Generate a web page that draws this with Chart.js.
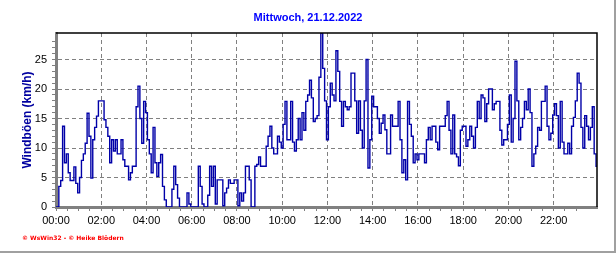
<!DOCTYPE html>
<html>
<head>
<meta charset="utf-8">
<script src="https://cdn.jsdelivr.net/npm/chart.js@4/dist/chart.umd.min.js"></script>
<style>
  html, body { margin: 0; padding: 0; background: #fff; }
  #wrap { width: 616px; height: 253px; }
</style>
</head>
<body>
<div id="wrap"><canvas id="gustChart" width="616" height="253"></canvas></div>
<script>
// texts
const chartTitle = "Mittwoch, 21.12.2022";
const yAxisTitle = "Windböen (km/h)";
const creditText = "© WsWin32 - © Heike Blödern";

// x axis tick labels, one every 2 hours
const hourLabels = ["00:00", "02:00", "04:00", "06:00", "08:00", "10:00",
  "12:00", "14:00", "16:00", "18:00", "20:00", "22:00"];

// one reading every 5 minutes, one row per hour
const sampleMinutes = 5;
const gusts = [
  0, 0, 3.5, 4.5, 13.7, 7.5, 9, 5.8, 4.5, 4.5, 6.8, 4,            // 00
  2.4, 5, 7.9, 9, 10.8, 15.9, 12, 4.9, 11.4, 13.5, 15.4, 18,       // 01
  18, 18, 14.8, 13.5, 12, 7.5, 11.4, 9.5, 11.4, 9, 9, 11.4,        // 02
  8, 6.9, 6.9, 4.6, 5.8, 6.9, 6.9, 17, 20.5, 15, 10.8, 17.9,       // 03
  16, 11.4, 9, 5.8, 13.5, 7.5, 5.2, 7.5, 8.9, 3.5, 1.2, 0,         // 04
  0, 0, 3, 6.9, 3.8, 1.5, 0, 0, 0, 0, 2.4, 0.5,                    // 05
  0, 0, 0, 0, 6.9, 3.5, 0.5, 0, 0, 2, 6.9, 3.5,                    // 06
  6.9, 0.5, 4.6, 4.6, 4.6, 0.2, 2.4, 3.2, 4.6, 4, 4, 4.6,          // 07
  4.6, 0.2, 2.4, 1, 2.4, 6.9, 6.9, 4.6, 0, 0, 6.9, 7.2,            // 08
  8.5, 6.9, 6.9, 6.9, 10.3, 12, 13.7, 10, 9, 9, 12, 11,            // 09
  10, 14, 17.9, 11.4, 11.4, 17.9, 11, 9.5, 11.4, 15, 11.4, 16,     // 10
  13, 17.9, 19, 21.5, 18.5, 14.5, 15, 15.5, 22, 29.5, 23.5, 18,    // 11
  11.4, 17, 21, 19, 18, 26.5, 23, 17.9, 13.7, 17.9, 17, 16.5,      // 12
  17, 22.7, 22.7, 18, 12.5, 18, 13, 10, 18, 25, 6.6, 11.4,         // 13
  18.8, 17, 17, 15, 12.5, 14.2, 15.6, 13.1, 9, 9, 15.6, 13.7,      // 14
  13.7, 13.7, 17.9, 11.4, 5.8, 8, 4.6, 17.9, 14, 12, 7.5, 9,       // 15
  8, 9, 9, 9, 7.5, 11.4, 13.5, 11.4, 13.7, 13.7, 11, 9.7,          // 16
  13.7, 13.7, 13.7, 15.5, 17.9, 13, 9, 15.6, 9, 8.5, 7, 13,        // 17
  13.7, 13.7, 10.3, 11.4, 13.7, 12, 10, 13.5, 17.9, 15, 19, 18.5,  // 18
  14.5, 17.5, 20, 20, 16.5, 17.5, 17.9, 17.9, 13, 10.5, 11.4, 11.4,// 19
  14, 19, 11, 15, 24.7, 18, 11.4, 13.5, 15, 17.9, 16.5, 20,        // 20
  16, 6.9, 9, 10.3, 13.5, 13, 17.9, 17.9, 20.5, 13.7, 11.4, 12.5,  // 21
  15.6, 17.5, 15.5, 10, 17.9, 11, 9, 9, 10.8, 9, 13.7, 15.2,       // 22
  18, 22.7, 21, 13.5, 10, 15.5, 13.7, 11.4, 13.5, 17, 9, 6.9       // 23
];

const yMax = 29.5;
const lastMinute = (gusts.length - 1) * sampleMinutes;

const points = gusts.map((v, i) => ({ x: i * sampleMinutes, y: v }));

const gridGrey = "#808080";
const none = "rgba(0,0,0,0)";
const fontFamily = "'Liberation Sans', Arial, sans-serif";

// frame lines, plot border and the small credit line
const frameDeco = {
  id: "frameDeco",
  afterDraw(chart) {
    const { ctx, chartArea: a } = chart;
    ctx.save();
    ctx.strokeStyle = "#000";
    ctx.lineWidth = 1.5;
    ctx.beginPath();
    ctx.moveTo(a.left, a.top);
    ctx.lineTo(a.right, a.top);
    ctx.lineTo(a.right, a.bottom);
    ctx.stroke();

    ctx.fillStyle = "#a0a0a0";
    ctx.fillRect(614, 0, 2, 253);
    ctx.fillRect(0, 251, 616, 2);

    ctx.fillStyle = "#ff0000";
    ctx.font = "bold 6px 'DejaVu Sans', sans-serif";
    ctx.textBaseline = "alphabetic";
    ctx.fillText(creditText, 22, 240);
    ctx.restore();
  }
};

new Chart(document.getElementById("gustChart"), {
  type: "line",
  data: {
    datasets: [{
      label: yAxisTitle,
      data: points,
      borderColor: "#0000a8",
      borderWidth: 1.4,
      pointRadius: 0,
      stepped: "middle",
      fill: false
    }]
  },
  options: {
    responsive: false,
    animation: false,
    devicePixelRatio: 1,
    layout: { padding: 0 },
    plugins: {
      legend: { display: false },
      tooltip: { enabled: false },
      title: {
        display: true,
        text: chartTitle,
        color: "#0000ff",
        font: { family: fontFamily, size: 11, weight: "bold" },
        padding: { top: 11, bottom: 8.8 }
      }
    },
    scales: {
      x: {
        type: "linear",
        min: 0,
        max: lastMinute,
        afterFit: s => { s.height = 46; },
        ticks: {
          stepSize: 30,
          autoSkip: false,
          maxRotation: 0,
          padding: 3,
          color: "#000",
          font: { family: fontFamily, size: 11 },
          callback: v => (v % 120 === 0 ? hourLabels[v / 120] : "")
        },
        grid: {
          color: c => (c.tick && c.tick.value % 120 === 0 && c.tick.value > 0) ? gridGrey : none,
          tickColor: c => (c.tick && c.tick.value % 30 === 0) ? gridGrey : none,
          tickLength: 4,
          lineWidth: 1
        },
        border: { color: gridGrey, width: 3, dash: [4, 3] }
      },
      y: {
        min: 0,
        max: yMax,
        afterFit: s => { s.width = 56; },
        ticks: {
          stepSize: 1,
          autoSkip: false,
          padding: 5,
          color: "#000",
          font: { family: fontFamily, size: 11 },
          callback: v => (v % 5 === 0 ? v : "")
        },
        grid: {
          color: c => (c.tick && c.tick.value % 5 === 0 && c.tick.value > 0) ? gridGrey : none,
          tickColor: c => (c.tick && Number.isInteger(c.tick.value)) ? gridGrey : none,
          tickLength: 4,
          lineWidth: 1
        },
        border: { color: gridGrey, width: 3, dash: [4, 3] },
        title: {
          display: true,
          text: yAxisTitle,
          color: "#0000a0",
          font: { family: fontFamily, size: 12, weight: "bold" },
          padding: { top: 20, bottom: 0 }
        }
      },
      // empty right-hand axis only reserves the margin right of the plot
      yRight: {
        position: "right",
        min: 0,
        max: yMax,
        afterFit: s => { s.width = 19; },
        ticks: { display: false },
        grid: { display: false, drawTicks: false },
        border: { display: false }
      }
    }
  },
  plugins: [frameDeco]
});
</script>
</body>
</html>
